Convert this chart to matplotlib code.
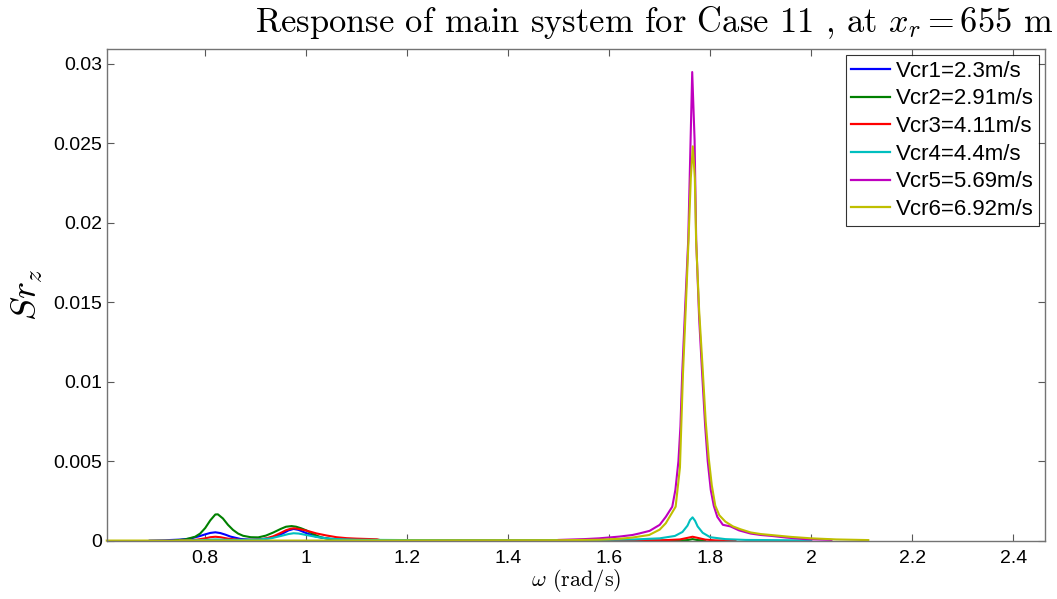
import matplotlib.pyplot as plt

plt.rcParams['mathtext.fontset'] = 'cm'
plt.rcParams['axes.unicode_minus'] = False

# Spectral response Sr_z of the main system, one curve per critical current speed
w_vcr1 = [0.69, 0.72, 0.75, 0.77, 0.79, 0.80, 0.81, 0.82, 0.83, 0.84, 0.85, 0.87, 0.89,
          0.91, 0.93, 0.95, 0.965, 0.975, 0.985, 1.00, 1.02, 1.05, 1.10, 1.20]
s_vcr1 = [0.00001, 0.00003, 0.00007, 0.00013, 0.00030, 0.00040, 0.00049, 0.00053, 0.00048,
          0.00038, 0.00026, 0.00011, 0.00006, 0.00008, 0.00018, 0.00040, 0.00065, 0.00074,
          0.00068, 0.00048, 0.00025, 0.00010, 0.00004, 0.00001]

w_vcr2 = [0.74, 0.76, 0.78, 0.79, 0.80, 0.81, 0.82, 0.825, 0.835, 0.845, 0.855, 0.865, 0.875,
          0.89, 0.905, 0.92, 0.935, 0.95, 0.96, 0.971, 0.98, 0.99, 1.00, 1.015, 1.03, 1.05,
          1.08, 1.12, 1.74, 1.755, 1.765, 1.775, 1.79]
s_vcr2 = [0.00002, 0.00008, 0.00025, 0.00045, 0.00080, 0.00128, 0.00165, 0.00166, 0.00140,
          0.00100, 0.00068, 0.00045, 0.00031, 0.00022, 0.00021, 0.00032, 0.00052, 0.00075,
          0.00088, 0.00092, 0.00088, 0.00078, 0.00065, 0.00040, 0.00020, 0.00009, 0.00004,
          0.00002, 0.00001, 0.00004, 0.00010, 0.00004, 0.00001]

w_vcr3 = [0.75, 0.78, 0.80, 0.81, 0.82, 0.83, 0.845, 0.87, 0.90, 0.92, 0.935, 0.95, 0.96,
          0.97, 0.976, 0.985, 1.00, 1.02, 1.04, 1.06, 1.08, 1.10, 1.12, 1.14, 1.15, 1.70,
          1.74, 1.755, 1.765, 1.775, 1.79, 1.81, 1.85]
s_vcr3 = [0.00001, 0.00005, 0.00015, 0.00022, 0.00025, 0.00022, 0.00013, 0.00005, 0.00006,
          0.00014, 0.00028, 0.00050, 0.00066, 0.00076, 0.00078, 0.00074, 0.00064, 0.00046,
          0.00033, 0.00022, 0.00016, 0.00013, 0.00011, 0.00009, 0.00001, 0.00002, 0.00008,
          0.00018, 0.00025, 0.00018, 0.00007, 0.00002, 0.00000]

w_vcr4 = [0.75, 0.80, 0.82, 0.85, 0.90, 0.93, 0.95, 0.965, 0.975, 0.985, 1.00, 1.02, 1.04,
          1.06, 1.10, 1.20, 1.30, 1.50, 1.65, 1.70, 1.73, 1.745, 1.755, 1.76, 1.765, 1.77,
          1.775, 1.785, 1.80, 1.83, 1.87, 2.00]
s_vcr4 = [0.00000, 0.00005, 0.00008, 0.00005, 0.00006, 0.00015, 0.00030, 0.00042, 0.00047,
          0.00045, 0.00036, 0.00024, 0.00015, 0.00010, 0.00006, 0.00004, 0.00003, 0.00003,
          0.00008, 0.00015, 0.00030, 0.00055, 0.00095, 0.00130, 0.00147, 0.00125, 0.00090,
          0.00050, 0.00022, 0.00010, 0.00005, 0.00002]

w_vcr5 = [1.50, 1.55, 1.58, 1.62, 1.646, 1.66, 1.68, 1.70, 1.712, 1.7248, 1.731, 1.737,
          1.741, 1.7445, 1.7505, 1.7564, 1.7611, 1.7643, 1.769, 1.7722, 1.778, 1.784, 1.790,
          1.795, 1.801, 1.807, 1.814, 1.825, 1.84, 1.857, 1.88, 1.90, 1.922, 1.95, 1.988, 2.04]
s_vcr5 = [0.00005, 0.00010, 0.00015, 0.00026, 0.00036, 0.00046, 0.00062, 0.00100, 0.00150,
          0.00214, 0.00320, 0.00500, 0.00720, 0.01050, 0.01480, 0.01890, 0.02520, 0.02947,
          0.02520, 0.01890, 0.01400, 0.01050, 0.00720, 0.00500, 0.00320, 0.00220, 0.00150,
          0.00100, 0.00090, 0.00065, 0.00045, 0.00036, 0.00030, 0.00020, 0.00010, 0.00005]

w_vcr6 = [0.605, 1.00, 1.50, 1.58, 1.62, 1.646, 1.679, 1.70, 1.712, 1.7315, 1.740, 1.746,
          1.752, 1.757, 1.7615, 1.7655, 1.7695, 1.772, 1.778, 1.785, 1.791, 1.797, 1.803,
          1.810, 1.818, 1.83, 1.845, 1.86, 1.88, 1.90, 1.93, 1.96, 2.00, 2.05, 2.113]
s_vcr6 = [0.00001, 0.00001, 0.00003, 0.00006, 0.00012, 0.00020, 0.00036, 0.00070, 0.00110,
          0.00214, 0.00460, 0.01050, 0.01500, 0.01890, 0.02280, 0.02480, 0.02280, 0.01890,
          0.01450, 0.01080, 0.00750, 0.00520, 0.00350, 0.00220, 0.00160, 0.00120, 0.00090,
          0.00072, 0.00052, 0.00042, 0.00033, 0.00024, 0.00015, 0.00008, 0.00004]

labels = ['Vcr1=2.3m/s', 'Vcr2=2.91m/s', 'Vcr3=4.11m/s',
          'Vcr4=4.4m/s', 'Vcr5=5.69m/s', 'Vcr6=6.92m/s']
colors = ['#0000ff', '#008000', '#ff0000', '#00bfbf', '#bf00bf', '#bfbf00']

xticks = [0.8, 1, 1.2, 1.4, 1.6, 1.8, 2, 2.2, 2.4]
xticklabels = ['0.8', '1', '1.2', '1.4', '1.6', '1.8', '2', '2.2', '2.4']
yticks = [0, 0.005, 0.01, 0.015, 0.02, 0.025, 0.03]
yticklabels = ['0', '0.005', '0.01', '0.015', '0.02', '0.025', '0.03']

fig = plt.figure(figsize=(10.57, 5.99), dpi=100)
ax = fig.add_axes([0.101, 0.0973, 0.8877, 0.8204])

series = [(w_vcr1, s_vcr1), (w_vcr2, s_vcr2), (w_vcr3, s_vcr3),
          (w_vcr4, s_vcr4), (w_vcr5, s_vcr5), (w_vcr6, s_vcr6)]
for (w, s), c, lab in zip(series, colors, labels):
    ax.plot(w, s, color=c, lw=1.5, label=lab, clip_on=False)

ax.set_xlim(0.605, 2.463)
ax.set_ylim(0, 0.0309)
ax.set_xticks(xticks)
ax.set_xticklabels(xticklabels, family='Liberation Sans', fontsize=14)
ax.set_yticks(yticks)
ax.set_yticklabels(yticklabels, family='Liberation Sans', fontsize=14)
ax.tick_params(direction='in', top=True, right=True, length=5, width=0.8,
               color='0.35')
ax.tick_params(axis='x', pad=7)
ax.tick_params(axis='y', pad=3)
for sp in ax.spines.values():
    sp.set_color('0.45')
    sp.set_linewidth(1.0)

ax.set_xlabel(r'$\omega$ (rad/s)', family='cmr10', fontsize=16, labelpad=0)
ax.set_ylabel(r'$Sr_z$', fontsize=26, labelpad=6)

fig.text(0.996, 0.962, r'Response of main system for Case 11 , at $x_r = 655$ m',
         family='cmr10', fontsize=24.8, ha='right', va='center')

leg = ax.legend(loc='upper right', bbox_to_anchor=(0.9935, 0.988),
                prop={'family': 'Liberation Sans', 'size': 16},
                frameon=True, fancybox=False, handlelength=1.75,
                handletextpad=0.25, labelspacing=0.3, borderpad=0.25,
                borderaxespad=0)
leg.get_frame().set_edgecolor('black')
leg.get_frame().set_linewidth(0.8)
for h in leg.get_lines():
    h.set_linewidth(1.6)

fig.savefig('out.png', dpi=100)
